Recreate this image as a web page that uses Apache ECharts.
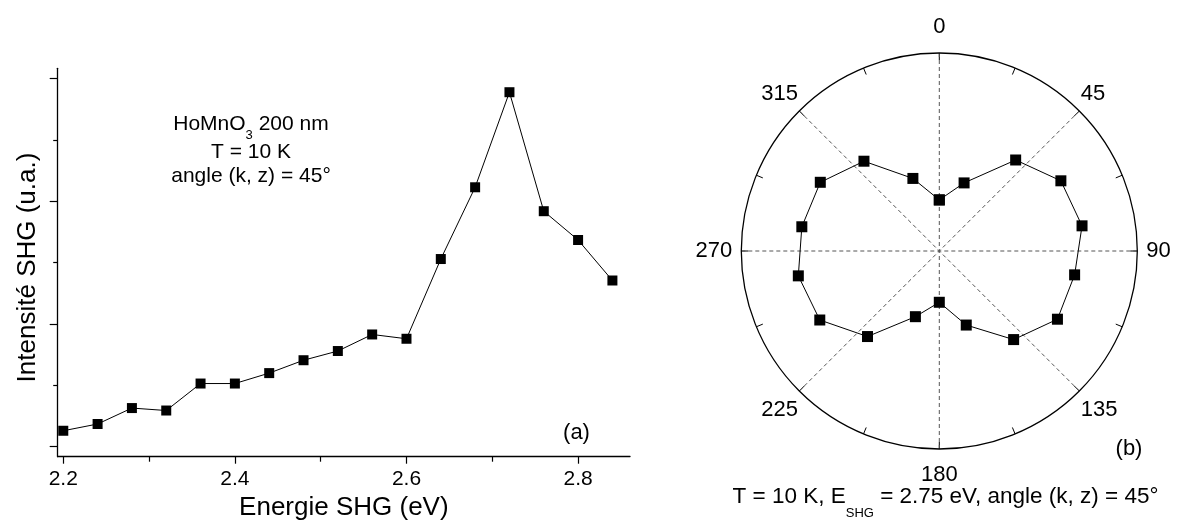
<!DOCTYPE html>
<html>
<head>
<meta charset="utf-8">
<script src="https://cdn.jsdelivr.net/npm/echarts@6/dist/echarts.min.js"></script>
<style>
  html, body { margin: 0; padding: 0; background: #fff; }
  #chart { width: 1177px; height: 520px; }
</style>
</head>
<body>
<div id="chart"></div>
<script>
// ---- data (a): SHG intensity vs energy ----
const energies = [2.20, 2.24, 2.28, 2.32, 2.36, 2.40, 2.44, 2.48, 2.52, 2.56, 2.60, 2.64, 2.68, 2.72, 2.76, 2.80, 2.84];
const intensity = [0.26, 0.37, 0.63, 0.59, 1.03, 1.03, 1.20, 1.41, 1.56, 1.83, 1.76, 3.06, 4.23, 5.78, 3.84, 3.37, 2.71];
const xMajorTicks = [2.2, 2.4, 2.6, 2.8];
const xMinorTicks = [2.3, 2.5, 2.7];
const yMajorTicks = [0, 2, 4, 6];
const yMinorTicks = [1, 3, 5];

// ---- data (b): polar SHG pattern ----
const polarAngles = [0, 20, 40, 60, 80, 100, 120, 140, 160, 180, 200, 220, 240, 260, 280, 300, 320, 340];
const polarRadii = [2.58, 3.66, 6.00, 7.09, 7.32, 6.94, 6.89, 5.84, 3.98, 2.59, 3.53, 5.64, 6.97, 7.23, 7.05, 6.94, 5.92, 3.90];

const FONT = "'Liberation Sans', Arial, Helvetica, sans-serif";

const lineData = energies.map((e, i) => [e, intensity[i]]);
const polarData = polarAngles.map((a, i) => [polarRadii[i], a]);
polarData.push([polarRadii[0], 360]);

const XMIN = 2.1935, XMAX = 2.8605, YMIN = -0.163, YMAX = 6.17;

// per-label fine placement of the angular labels
const angleLabelStyle = {
  0:   'p0',
  45:  'p45',
  90:  'p90',
  135: 'p135',
  180: 'p180',
  225: 'p225',
  270: 'p270',
  315: 'p315'
};
const base = { fontSize: 22, fontFamily: FONT, color: '#000' };

const chart = echarts.init(document.getElementById('chart'), null, { renderer: 'canvas' });
chart.setOption({
  animation: false,
  backgroundColor: '#fff',
  textStyle: { fontFamily: FONT, color: '#000' },
  grid: { left: 57.7, right: 547, top: 68.3, bottom: 63.3, containLabel: false, outerBoundsMode: 'none' },
  xAxis: [
    {
      type: 'value', min: XMIN, max: XMAX, position: 'bottom',
      axisLine: { show: true, onZero: false, lineStyle: { color: '#000', width: 1.3 } },
      axisTick: { show: true, customValues: xMajorTicks, length: 7, lineStyle: { color: '#000', width: 1.2 } },
      axisLabel: { show: true, customValues: xMajorTicks, margin: 12, fontSize: 21, color: '#000', fontFamily: FONT,
        formatter: v => v.toFixed(1) },
      splitLine: { show: false },
      name: 'Energie SHG (eV)', nameLocation: 'middle', nameGap: 35,
      nameTextStyle: { fontSize: 26, color: '#000', fontFamily: FONT }
    },
    {
      type: 'value', min: XMIN, max: XMAX, position: 'bottom',
      axisLine: { show: false, onZero: false },
      axisTick: { show: true, customValues: xMinorTicks, length: 5, lineStyle: { color: '#000', width: 1.2 } },
      axisLabel: { show: false },
      splitLine: { show: false }
    }
  ],
  yAxis: [
    {
      type: 'value', min: YMIN, max: YMAX, position: 'left',
      axisLine: { show: true, onZero: false, lineStyle: { color: '#000', width: 1.3 } },
      axisTick: { show: true, customValues: yMajorTicks, length: 8, lineStyle: { color: '#000', width: 1.2 } },
      axisLabel: { show: false },
      splitLine: { show: false },
      name: 'Intensité SHG (u.a.)', nameLocation: 'middle', nameGap: 17,
      nameTextStyle: { fontSize: 26, color: '#000', fontFamily: FONT, padding: [0, 10, 0, 0] }
    },
    {
      type: 'value', min: YMIN, max: YMAX, position: 'left',
      axisLine: { show: false, onZero: false },
      axisTick: { show: true, customValues: yMinorTicks, length: 4.5, lineStyle: { color: '#000', width: 1.2 } },
      axisLabel: { show: false },
      splitLine: { show: false }
    }
  ],
  polar: { center: [939.3, 251], radius: 198 },
  angleAxis: {
    type: 'value', min: 0, max: 360, interval: 45, startAngle: 90, clockwise: true,
    axisLine: { show: true, lineStyle: { color: '#000', width: 1.3 } },
    axisTick: { show: true, inside: true, length: 7, lineStyle: { color: '#000', width: 1 } },
    minorTick: { show: true, splitNumber: 2, length: 7, lineStyle: { color: '#000', width: 1 } },
    axisLabel: {
      show: true, margin: 2, fontSize: 22, color: '#000', fontFamily: FONT,
      formatter: v => {
        if (v === 360 || !(v in angleLabelStyle)) return '';
        return '{' + angleLabelStyle[v] + '|' + v + '}';
      },
      rich: {
        p0:   Object.assign({ padding: [0, 0, 13, 0] }, base),
        p45:  Object.assign({ padding: [0, 0, 5, 0] }, base),
        p90:  Object.assign({ padding: [0, 0, 0, 7] }, base),
        p135: Object.assign({ padding: [7, 0, 0, 0] }, base),
        p180: Object.assign({ padding: [13, 0, 0, 0] }, base),
        p225: Object.assign({ padding: [7, 0, 0, 0] }, base),
        p270: Object.assign({ padding: [0, 7, 0, 0] }, base),
        p315: Object.assign({ padding: [0, 0, 5, 0] }, base)
      }
    },
    splitLine: { show: true, lineStyle: { type: [4, 3], color: '#555', width: 1 } }
  },
  radiusAxis: {
    type: 'value', min: 0, max: 10,
    axisLine: { show: false }, axisTick: { show: false }, axisLabel: { show: false }, splitLine: { show: false }
  },
  series: [
    {
      type: 'line', xAxisIndex: 0, yAxisIndex: 0, data: lineData,
      symbol: 'rect', symbolSize: 10,
      lineStyle: { color: '#000', width: 1 },
      itemStyle: { color: '#000' }
    },
    {
      type: 'line', coordinateSystem: 'polar', data: polarData,
      symbol: 'rect', symbolSize: 11,
      lineStyle: { color: '#000', width: 1 },
      itemStyle: { color: '#000' }
    }
  ],
  graphic: [
    {
      type: 'text', x: 251, y: 113.5,
      style: {
        text: '{m|HoMnO}{s|3}{m| 200 nm}\n{m|T = 10 K}\n{m|angle (k, z) = 45°}',
        align: 'center', verticalAlign: 'top',
        rich: {
          m: { fontSize: 21, lineHeight: 24, verticalAlign: 'top', fontFamily: FONT, fill: '#000', color: '#000' },
          s: { fontSize: 13, verticalAlign: 'top', padding: [15, 0, 0, 0], fontFamily: FONT, fill: '#000', color: '#000' }
        }
      }
    },
    {
      type: 'text', x: 576.5, y: 433,
      style: { text: '(a)', fontSize: 22, fontFamily: FONT, fill: '#000', align: 'center', verticalAlign: 'middle' }
    },
    {
      type: 'text', x: 1129, y: 449,
      style: { text: '(b)', fontSize: 22, fontFamily: FONT, fill: '#000', align: 'center', verticalAlign: 'middle' }
    },
    {
      type: 'text', x: 945.5, y: 485,
      style: {
        text: '{m|T = 10 K, E}{s|SHG}{m| = 2.75 eV, angle (k, z) = 45°}',
        align: 'center', verticalAlign: 'top',
        rich: {
          m: { fontSize: 22.5, lineHeight: 24, verticalAlign: 'top', fontFamily: FONT, fill: '#000', color: '#000' },
          s: { fontSize: 13, verticalAlign: 'top', padding: [22, 0, 0, 0], fontFamily: FONT, fill: '#000', color: '#000' }
        }
      }
    }
  ]
});
</script>
</body>
</html>
